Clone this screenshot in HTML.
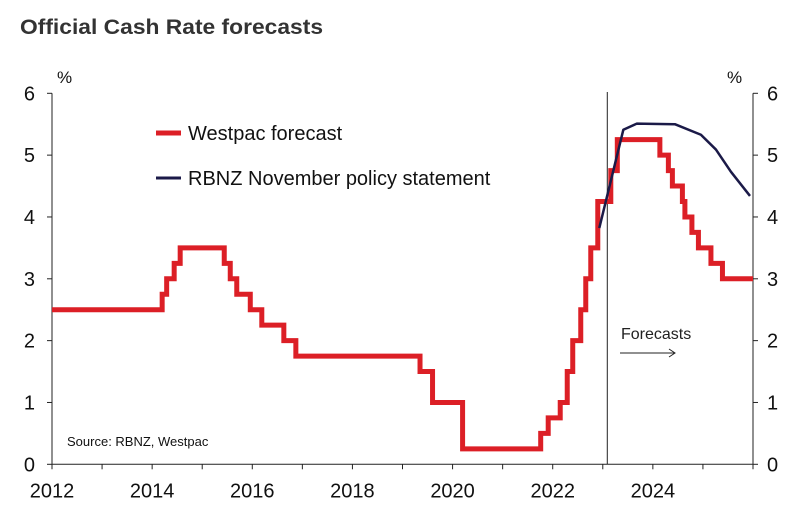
<!DOCTYPE html>
<html><head><meta charset="utf-8"><style>
body{margin:0;background:#fff;}
svg{display:block;font-family:"Liberation Sans",sans-serif;}
</style></head><body>
<svg id="chart" width="808" height="524" viewBox="0 0 808 524" xmlns="http://www.w3.org/2000/svg">
<text x="20" y="34" font-size="21" font-weight="bold" fill="#333" textLength="303" lengthAdjust="spacingAndGlyphs">Official Cash Rate forecasts</text>
<g id="axes"></g>
<g id="marks"></g>
<g>
<line x1="156" y1="133" x2="181" y2="133" stroke="#dc1f26" stroke-width="5"/>
<text x="188" y="140" font-size="20" fill="#111">Westpac forecast</text>
<line x1="156" y1="178" x2="181" y2="178" stroke="#1b1a48" stroke-width="3"/>
<text x="188" y="185" font-size="20" fill="#111">RBNZ November policy statement</text>
</g>
<text x="67" y="446" font-size="13" fill="#111">Source: RBNZ, Westpac</text>
<text x="621" y="339" font-size="16" fill="#222">Forecasts</text>
<g stroke="#222" stroke-width="1" fill="none">
<line x1="620" y1="353" x2="675" y2="353"/><polyline points="669,349 675,353 669,357"/>
</g>
<text x="57" y="83" font-size="17" fill="#111">%</text>
<text x="727" y="83" font-size="17" fill="#111">%</text>
</svg>
<script>
const westpacStartYears=[2012,2014.2,2014.29,2014.44,2014.56,2015.44,2015.56,2015.69,2015.96,2016.19,2016.63,2016.87,2019.35,2019.6,2020.2,2021.76,2021.91,2022.15,2022.29,2022.4,2022.56,2022.66,2022.76,2022.9,2023.16,2023.29,2024.14,2024.31,2024.39,2024.59,2024.64,2024.78,2024.91,2025.16,2025.39];
const westpacRates=[2.5,2.75,3.0,3.25,3.5,3.25,3.0,2.75,2.5,2.25,2.0,1.75,1.5,1.0,0.25,0.5,0.75,1.0,1.5,2.0,2.5,3.0,3.5,4.25,4.75,5.25,5.0,4.75,4.5,4.25,4.0,3.75,3.5,3.25,3.0];
const rbnzYears=[2022.93,2023.41,2023.68,2024.44,2024.96,2025.26,2025.56,2025.94];
const rbnzRates=[3.82,5.41,5.51,5.5,5.33,5.09,4.73,4.34];
const xTickLabels=["2012","2014","2016","2018","2020","2022","2024"];
const yTickLabels=["0","1","2","3","4","5","6"];
const forecastStart=2023.09;
const xMin=2012,xMax=2026,yMin=0,yMax=6;
const L=52,R=753,T=93.3,B=464.3;
const X=v=>L+(v-xMin)/(xMax-xMin)*(R-L);
const Y=v=>B-(v-yMin)/(yMax-yMin)*(B-T);
const NS="http://www.w3.org/2000/svg";
function mk(tag,attrs,parent){const e=document.createElementNS(NS,tag);for(const k in attrs)e.setAttribute(k,attrs[k]);parent.appendChild(e);return e;}
const axes=document.getElementById('axes'),marks=document.getElementById('marks');
let e;
e=mk('line',{x1:L,y1:T,x2:L,y2:B,stroke:'#222','stroke-width':1},axes);


e=mk('line',{x1:R,y1:T,x2:R,y2:B,stroke:'#222','stroke-width':1},axes);


e=mk('line',{x1:L,y1:B,x2:R,y2:B,stroke:'#222','stroke-width':1},axes);


yTickLabels.forEach(t=>{const v=+t,y=Y(v);
 mk('line',{x1:L-5,y1:y,x2:L,y2:y,stroke:'#222'},axes);
 mk('line',{x1:R,y1:y,x2:R+5,y2:y,stroke:'#222'},axes);
 e=mk('text',{x:L-17,y:y+7,'font-size':20,'text-anchor':'end',fill:'#111'},axes);e.textContent=t;
 
 
 e=mk('text',{x:R+14,y:y+7,'font-size':20,fill:'#111'},axes);e.textContent=t;
 
 
});
for(let yr=xMin;yr<=xMax;yr++){const x=X(yr);mk('line',{x1:x,y1:B,x2:x,y2:B+5,stroke:'#222'},axes);}
xTickLabels.forEach(t=>{e=mk('text',{x:X(+t),y:B+33,'font-size':20,'text-anchor':'middle',fill:'#111'},axes);e.textContent=t;
 
 });
e=mk('line',{x1:X(forecastStart),y1:92,x2:X(forecastStart),y2:B,stroke:'#222','stroke-width':1},marks);


let pts=[];
for(let i=0;i<westpacStartYears.length;i++){const x0=X(westpacStartYears[i]);const x1=X(i+1<westpacStartYears.length?westpacStartYears[i+1]:xMax);const y=Y(westpacRates[i]);pts.push(x0+','+y,x1+','+y);}
e=mk('polyline',{points:pts.join(' '),fill:'none',stroke:'#dc1f26','stroke-width':5,'stroke-linejoin':'miter'},marks);


e=mk('polyline',{points:rbnzYears.map((v,i)=>X(v)+','+Y(rbnzRates[i])).join(' '),fill:'none',stroke:'#1b1a48','stroke-width':2.5,'stroke-linejoin':'round'},marks);


</script>
</body></html>
